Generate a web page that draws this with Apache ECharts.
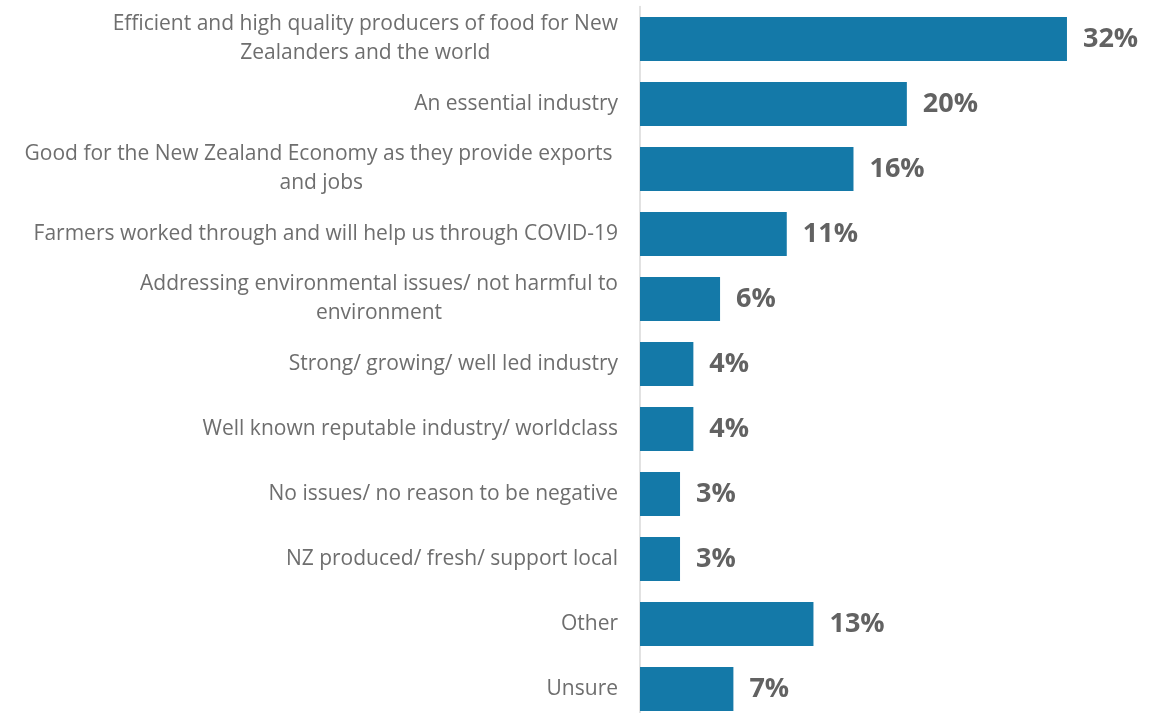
<!DOCTYPE html>
<html><head><meta charset="utf-8">
<script src="https://cdn.jsdelivr.net/npm/echarts@6/dist/echarts.min.js"></script>
<style>html,body{margin:0;padding:0;background:#fff}#c{width:1165px;height:713px}</style>
</head><body><div id="c"></div>
<script>
var categories = [
  "Efficient and high quality producers of food for New\nZealanders and the world",
  "An essential industry",
  "Good for the New Zealand Economy as they provide exports \nand jobs",
  "Farmers worked through and will help us through COVID-19",
  "Addressing environmental issues/ not harmful to\nenvironment",
  "Strong/ growing/ well led industry",
  "Well known reputable industry/ worldclass",
  "No issues/ no reason to be negative",
  "NZ produced/ fresh/ support local",
  "Other",
  "Unsure"
];
var values = [32, 20, 16, 11, 6, 4, 4, 3, 3, 13, 7];

var FONT = '"Open Sans", sans-serif';
var chart = echarts.init(document.getElementById('c'));
chart.setOption({
  animation: false,
  grid: { left: 640, top: 6.5, width: 467, height: 715, outerBoundsMode: 'none' },
  xAxis: { type: 'value', min: 0, max: 35, show: false },
  yAxis: {
    type: 'category', inverse: true, data: categories,
    axisLine: { show: true, lineStyle: { color: '#d9d9d9', width: 1.5 } },
    axisTick: { show: false },
    axisLabel: {
      margin: 22, color: '#6e6e6e', fontSize: 21, lineHeight: 29, align: 'right',
      fontFamily: FONT,
      formatter: function (v) {
        var lines = v.split('\n');
        if (lines.length === 1) return v;
        return lines.map(function (l) { return '{c|' + l + '}'; }).join('\n');
      },
      rich: { c: { align: 'center', color: '#6e6e6e', fontSize: 21, lineHeight: 29, fontFamily: FONT } }
    }
  },
  series: [{
    type: 'bar', data: values, barWidth: 44,
    itemStyle: { color: '#1479a8' },
    label: { show: true, position: 'right', distance: 16, formatter: '{c}%',
      color: '#626262', fontSize: 27, fontWeight: 'bold', fontFamily: FONT }
  }]
});
</script></body></html>
